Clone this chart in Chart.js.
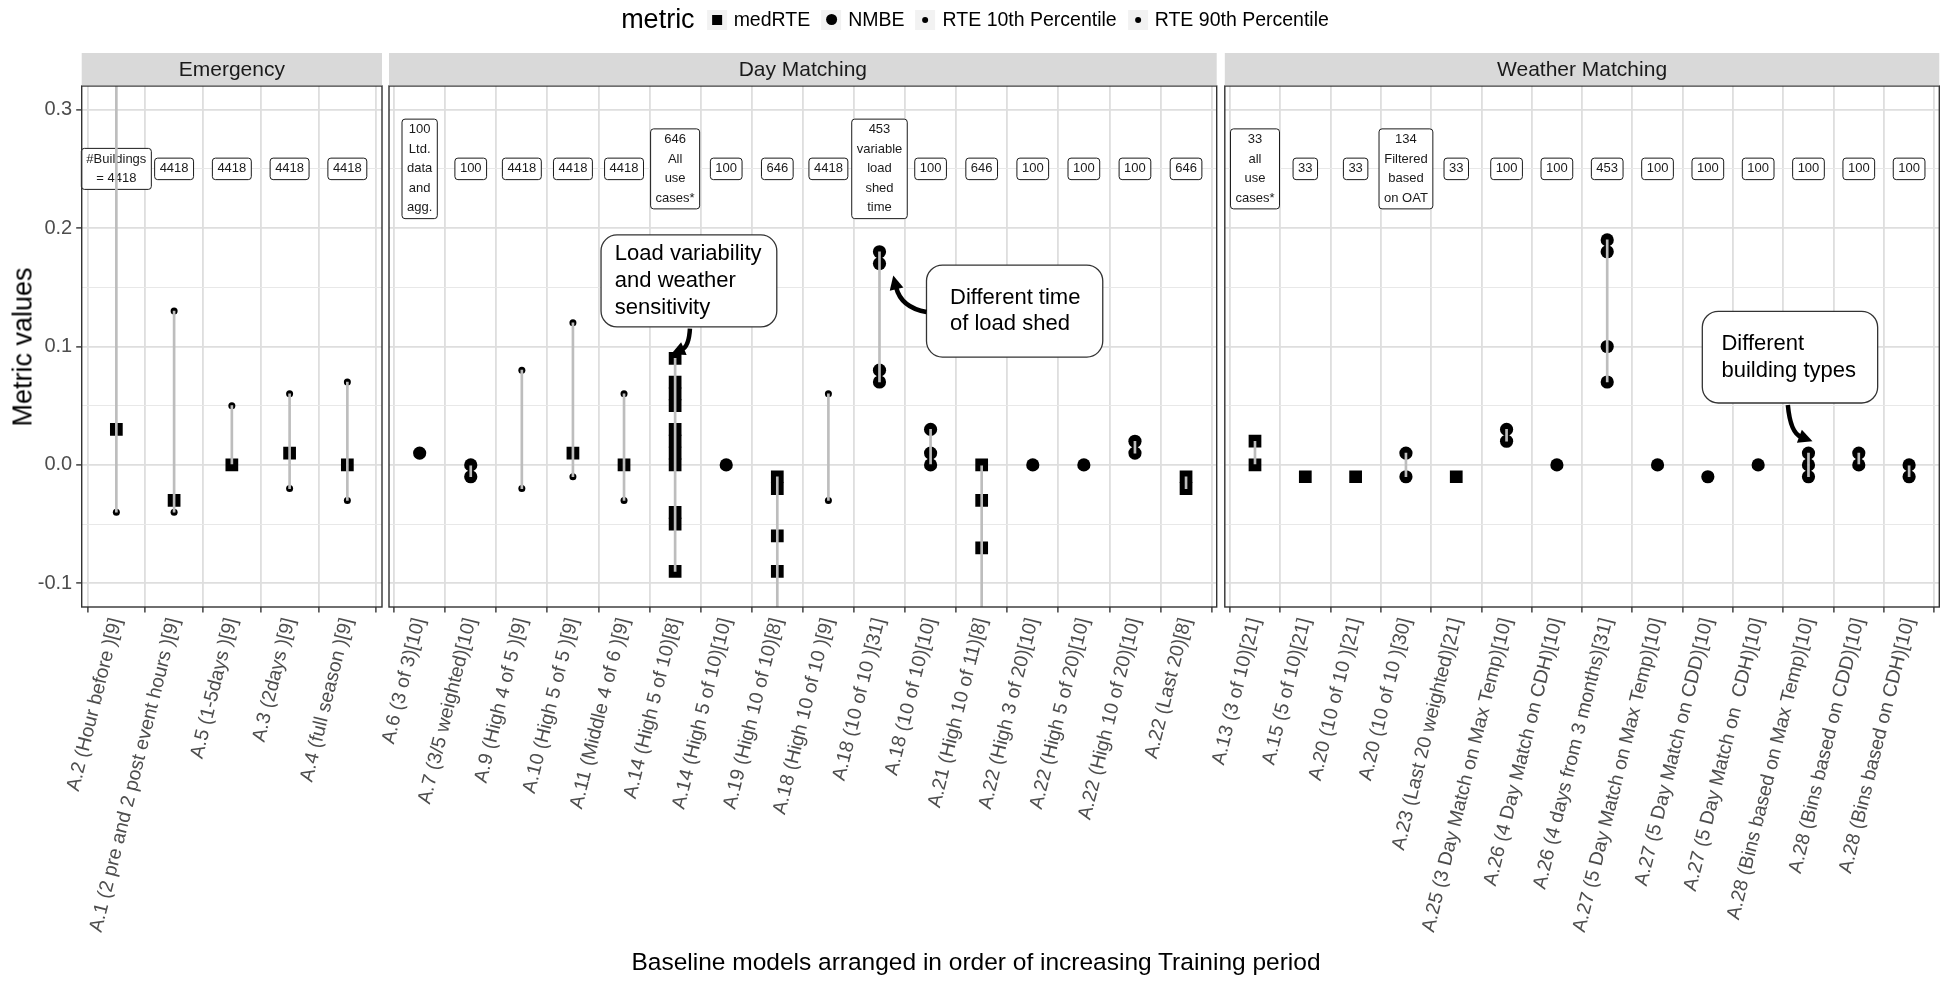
<!DOCTYPE html>
<html>
<head>
<meta charset="utf-8">
<script src="https://cdn.jsdelivr.net/npm/chart.js@4.4.1/dist/chart.umd.min.js"></script>
<style>
  body { margin: 0; background: #fff; font-family: "Liberation Sans", Arial, sans-serif; }
  #wrap { position: relative; width: 1950px; height: 981px; overflow: hidden; background: #fff; }
  #wrap canvas { position: absolute; left: 0; top: 0; }
  #legend { position: absolute; top: 9.5px; left: 975px; transform: translateX(-50%); display: flex; align-items: center; height: 20px; white-space: nowrap; line-height: 1; }
  #legend .title { font-size: 27px; margin-right: 12px; }
  #legend .key { width: 20px; height: 20px; background: #f2f2f2; display: flex; align-items: center; justify-content: center; margin-right: 7px; }
  #legend .lab { font-size: 19.5px; margin-right: 11px; }
  .sq { width: 10px; height: 10px; background: #000; }
  .ci { width: 11px; height: 11px; border-radius: 50%; background: #000; }
  .dot { width: 6px; height: 6px; border-radius: 50%; background: #000; }
  #xtitle { position: absolute; left: 976px; top: 950px; transform: translateX(-50%); font-size: 24.5px; line-height: 1; white-space: nowrap; }
  #ytitle { position: absolute; left: 22.5px; top: 347px; transform: translate(-50%, -50%) rotate(-90deg); font-size: 27px; line-height: 1; white-space: nowrap; }
</style>
</head>
<body>
<div id="wrap">
  <canvas id="cEmergency" width="1950" height="981"></canvas>
  <canvas id="cDay" width="1950" height="981"></canvas>
  <canvas id="cWeather" width="1950" height="981"></canvas>
  <div id="legend">
    <span class="title">metric</span>
    <span class="key"><span class="sq"></span></span><span class="lab">medRTE</span>
    <span class="key"><span class="ci"></span></span><span class="lab">NMBE</span>
    <span class="key"><span class="dot"></span></span><span class="lab">RTE 10th Percentile</span>
    <span class="key"><span class="dot"></span></span><span class="lab" style="margin-right:0">RTE 90th Percentile</span>
  </div>
  <div id="ytitle">Metric values</div>
  <div id="xtitle">Baseline models arranged in order of increasing Training period</div>
</div>
<script>
// Categories (baseline models) per facet
const emergencyLabels = [
  'A.2 (Hour before )[9]', 'A.1 (2 pre and 2 post event hours )[9]', 'A.5 (1-5days )[9]',
  'A.3 (2days )[9]', 'A.4 (full season )[9]'
];
const dayLabels = [
  'A.6 (3 of 3)[10]', 'A.7 (3/5 weighted)[10]', 'A.9 (High 4 of 5 )[9]', 'A.10 (High 5 of 5 )[9]',
  'A.11 (Middle 4 of 6 )[9]', 'A.14 (High 5 of 10)[8]', 'A.14 (High 5 of 10)[10]', 'A.19 (High 10 of 10)[8]',
  'A.18 (High 10 of 10 )[9]', 'A.18 (10 of 10 )[31]', 'A.18 (10 of 10)[10]', 'A.21 (High 10 of 11)[8]',
  'A.22 (High 3 of 20)[10]', 'A.22 (High 5 of 20)[10]', 'A.22 (High 10 of 20)[10]', 'A.22 (Last 20)[8]'
];
const weatherLabels = [
  'A.13 (3 of 10)[21]', 'A.15 (5 of 10)[21]', 'A.20 (10 of 10 )[21]', 'A.20 (10 of 10 )[30]',
  'A.23 (Last 20 weighted)[21]', 'A.25 (3 Day Match on Max Temp)[10]', 'A.26 (4 Day Match on CDH)[10]',
  'A.26 (4 days from 3 months)[31]', 'A.27 (5 Day Match on Max Temp)[10]', 'A.27 (5 Day Match on CDD)[10]',
  'A.27 (5 Day Match on  CDH)[10]', 'A.28 (Bins based on Max Temp)[10]', 'A.28 (Bins based on CDD)[10]',
  'A.28 (Bins based on CDH)[10]'
];

// medRTE values (one list per model, several use cases give several values)
const emergencyMedRTE = [[0.03], [-0.03], [0.0], [0.01], [0.0]];
const dayMedRTE = [
  [], [], [], [0.01], [0.0],
  [0.09, 0.07, 0.06, 0.05, 0.03, 0.02, 0.01, 0.0, -0.04, -0.05, -0.09],
  [], [-0.01, -0.02, -0.06, -0.09], [], [], [], [0.0, -0.03, -0.07], [], [], [], [-0.01, -0.02]
];
const weatherMedRTE = [[0.02, 0.0], [-0.01], [-0.01], [], [-0.01], [], [], [], [], [], [], [], [], []];

// NMBE values
const emergencyNMBE = [[], [], [], [], []];
const dayNMBE = [
  [0.01], [0.0, -0.01], [], [], [], [], [0.0], [], [], [0.18, 0.17, 0.08, 0.07], [0.03, 0.01, 0.0],
  [], [0.0], [0.0], [0.02, 0.01], []
];
const weatherNMBE = [
  [], [], [], [0.01, -0.01], [], [0.03, 0.02], [0.0], [0.19, 0.18, 0.1, 0.07], [0.0], [-0.01], [0.0],
  [0.01, 0.0, -0.01], [0.01, 0.0], [0.0, -0.01]
];

// RTE 10th / 90th percentiles (null = not shown)
const emergencyP10 = [-0.04, -0.04, 0.0, -0.02, -0.03];
const emergencyP90 = [0.33, 0.13, 0.05, 0.06, 0.07];
const dayP10 = [null, -0.01, -0.02, -0.01, -0.03, -0.09, null, -0.13, -0.03, 0.07, 0.0, -0.13, null, null, 0.01, -0.02];
const dayP90 = [null, 0.0, 0.08, 0.12, 0.06, 0.09, null, -0.01, 0.06, 0.18, 0.03, 0.0, null, null, 0.02, -0.01];
const weatherP10 = [0.0, null, null, -0.01, null, 0.02, null, 0.07, null, null, null, -0.01, 0.0, -0.01];
const weatherP90 = [0.02, null, null, 0.01, null, 0.03, null, 0.19, null, null, null, 0.01, 0.01, 0.0];

// Number of buildings labels
const emergencyCounts = ['#Buildings\n= 4418', '4418', '4418', '4418', '4418'];
const dayCounts = [
  '100\nLtd.\ndata\nand\nagg.', '100', '4418', '4418', '4418', '646\nAll\nuse\ncases*', '100', '646', '4418',
  '453\nvariable\nload\nshed\ntime', '100', '646', '100', '100', '100', '646'
];
const weatherCounts = [
  '33\nall\nuse\ncases*', '33', '33', '134\nFiltered\nbased\non OAT', '33', '100', '100', '453',
  '100', '100', '100', '100', '100', '100'
];
const countY = 0.25;

// y axis breaks (major every 0.1, minor between)
const yBreaks = [-0.1, -0.05, 0, 0.05, 0.1, 0.15, 0.2, 0.25, 0.3];

// Callouts, in data units: box [x0, y0, x1, y1], text x, arrow [start, control, tip]
const dayNotes = [
  { lines: ['Load variability', 'and weather', 'sensitivity'], box: [3.55, 0.1942, 6.99, 0.1165], textX: 3.82,
    arrow: [[5.29, 0.1150], [5.27, 0.1000], [4.92, 0.0935]] },
  { lines: ['Different time', 'of load shed'], box: [9.92, 0.1688, 13.37, 0.0911], textX: 10.38,
    arrow: [[9.92, 0.1291], [9.42, 0.1330], [9.27, 0.1600]] }
];
const weatherNotes = [
  { lines: ['Different', 'building types'], box: [8.89, 0.1297, 12.375, 0.0523], textX: 9.27,
    arrow: [[10.59, 0.0506], [10.64, 0.0270], [11.08, 0.0200]] }
];

const FONT = '"Liberation Sans", Arial, sans-serif';
const isMajor = v => Math.abs(v * 10 - Math.round(v * 10)) < 1e-6;

function flatten(lists) {
  const out = [];
  lists.forEach((vals, i) => vals.forEach(v => out.push({ x: i, y: v })));
  return out;
}

function points(vals) {
  return vals.map((v, i) => (v === null ? null : { x: i, y: v })).filter(p => p);
}

function ranges(lo, hi) {
  const out = [];
  lo.forEach((v, i) => {
    if (v !== null && hi[i] !== null) out.push({ x: i, y: [v, hi[i]] });
  });
  return out;
}

function drawArrow(ctx, x, y, pts) {
  const [p0, p1, p2] = pts.map(p => [x.getPixelForValue(p[0]), y.getPixelForValue(p[1])]);
  const dx = p2[0] - p1[0], dy = p2[1] - p1[1];
  const len = Math.hypot(dx, dy);
  const ux = dx / len, uy = dy / len;
  const head = 14, half = 7;
  const bx = p2[0] - ux * head, by = p2[1] - uy * head;
  ctx.strokeStyle = '#000';
  ctx.lineWidth = 4.5;
  ctx.lineCap = 'butt';
  ctx.beginPath();
  ctx.moveTo(p0[0], p0[1]);
  ctx.quadraticCurveTo(p1[0], p1[1], bx + ux * 2, by + uy * 2);
  ctx.stroke();
  ctx.fillStyle = '#000';
  ctx.beginPath();
  ctx.moveTo(p2[0], p2[1]);
  ctx.lineTo(bx - uy * half, by + ux * half);
  ctx.lineTo(bx + uy * half, by - ux * half);
  ctx.closePath();
  ctx.fill();
}

const facetPlugin = {
  id: 'facet',
  beforeDatasetsDraw(chart, args, opts) {
    const { ctx, scales: { x, y } } = chart;
    ctx.save();
    ctx.font = '13px ' + FONT;
    ctx.textAlign = 'center';
    ctx.textBaseline = 'middle';
    const lh = 19.5;
    opts.counts.forEach((txt, i) => {
      const lines = txt.split('\n');
      const w = Math.max(...lines.map(l => ctx.measureText(l).width)) + 10;
      const h = lines.length * lh + 2;
      const cx = x.getPixelForValue(i), cy = y.getPixelForValue(countY);
      ctx.beginPath();
      ctx.roundRect(cx - w / 2, cy - h / 2, w, h, 3);
      ctx.fillStyle = '#fff';
      ctx.fill();
      ctx.strokeStyle = '#1a1a1a';
      ctx.lineWidth = 1;
      ctx.stroke();
      ctx.fillStyle = '#1a1a1a';
      lines.forEach((l, k) => ctx.fillText(l, cx, cy - h / 2 + 1 + lh * (k + 0.5)));
    });
    ctx.restore();
  },
  afterDatasetsDraw(chart, args, opts) {
    const { ctx, chartArea: a, scales: { x, y } } = chart;
    ctx.save();
    opts.notes.forEach(n => {
      const x0 = x.getPixelForValue(n.box[0]), y0 = y.getPixelForValue(n.box[1]);
      const x1 = x.getPixelForValue(n.box[2]), y1 = y.getPixelForValue(n.box[3]);
      ctx.beginPath();
      ctx.roundRect(x0, y0, x1 - x0, y1 - y0, 16);
      ctx.fillStyle = '#fff';
      ctx.fill();
      ctx.strokeStyle = '#333';
      ctx.lineWidth = 1.3;
      ctx.stroke();
      ctx.fillStyle = '#000';
      ctx.font = '22px ' + FONT;
      ctx.textAlign = 'left';
      ctx.textBaseline = 'middle';
      const tx = x.getPixelForValue(n.textX);
      const cy = (y0 + y1) / 2;
      n.lines.forEach((l, k) => ctx.fillText(l, tx, cy + (k - (n.lines.length - 1) / 2) * 26.7));
      drawArrow(ctx, x, y, n.arrow);
    });
    // panel border
    ctx.strokeStyle = '#333';
    ctx.lineWidth = 1.4;
    ctx.strokeRect(a.left, a.top, a.right - a.left, a.bottom - a.top);
    // strip
    ctx.fillStyle = '#d9d9d9';
    ctx.fillRect(a.left, 53, a.right - a.left, a.top - 53 - 0.7);
    ctx.fillStyle = '#1a1a1a';
    ctx.font = '21px ' + FONT;
    ctx.textAlign = 'center';
    ctx.textBaseline = 'middle';
    ctx.fillText(opts.title, (a.left + a.right) / 2, (53 + a.top) / 2 + 1);
    ctx.restore();
  }
};

function buildPanel(canvasId, cfg) {
  const n = cfg.labels.length;
  const first = cfg.first;
  return new Chart(document.getElementById(canvasId), {
    type: 'scatter',
    data: {
      datasets: [
        { type: 'bar', label: 'range', data: ranges(cfg.p10, cfg.p90), backgroundColor: '#bdbdbd',
          barThickness: 2, borderWidth: 0, order: 0, clip: 0 },
        { label: 'NMBE', data: flatten(cfg.nmbe), pointStyle: 'circle', pointRadius: 6.6,
          backgroundColor: '#000', borderWidth: 0, order: 1 },
        { label: 'medRTE', data: flatten(cfg.med), pointStyle: 'rect', pointRadius: 9,
          backgroundColor: '#000', borderWidth: 0, order: 2 },
        { label: 'RTE 10th Percentile', data: points(cfg.p10), pointStyle: 'circle', pointRadius: 3.5,
          backgroundColor: '#000', borderWidth: 0, order: 3 },
        { label: 'RTE 90th Percentile', data: points(cfg.p90), pointStyle: 'circle', pointRadius: 3.5,
          backgroundColor: '#000', borderWidth: 0, order: 3 }
      ]
    },
    options: {
      responsive: false,
      animation: false,
      events: [],
      layout: { padding: { left: first ? 0 : cfg.left, right: 1950 - cfg.right, top: 86, bottom: 0 } },
      plugins: {
        legend: { display: false },
        tooltip: { enabled: false },
        facet: { title: cfg.title, counts: cfg.counts, notes: cfg.notes }
      },
      scales: {
        x: {
          type: 'linear',
          min: -0.6,
          max: n - 0.4,
          offset: false,
          afterBuildTicks: s => { s.ticks = cfg.labels.map((_, i) => ({ value: i })); },
          afterFit: s => { s.height = 981 - 607; },
          border: { display: false },
          grid: { color: '#dedede', lineWidth: 1.8, tickColor: '#333', tickLength: 5.5, tickWidth: 1.4 },
          ticks: {
            autoSkip: false, minRotation: 76, maxRotation: 76, padding: 3,
            color: '#4d4d4d', font: { family: FONT, size: 19.5 },
            callback: v => cfg.labels[v]
          }
        },
        y: {
          min: -0.12,
          max: 0.32,
          afterBuildTicks: s => { s.ticks = yBreaks.map(v => ({ value: v })); },
          afterFit: s => { s.width = first ? cfg.left : 0; },
          border: { display: false },
          grid: {
            color: c => (c.tick && isMajor(c.tick.value) ? '#dedede' : '#e8e8e8'),
            lineWidth: c => (c.tick && isMajor(c.tick.value) ? 1.8 : 1),
            drawTicks: first,
            tickColor: c => (c.tick && isMajor(c.tick.value) ? '#333' : 'rgba(0,0,0,0)'),
            tickLength: 5.5, tickWidth: 1.4
          },
          ticks: {
            display: first, padding: 4, color: '#4d4d4d', font: { family: FONT, size: 20 },
            callback: v => (isMajor(v) ? v.toFixed(1) : '')
          }
        }
      }
    },
    plugins: [facetPlugin]
  });
}

buildPanel('cEmergency', {
  title: 'Emergency', first: true, left: 81.7, right: 382,
  labels: emergencyLabels, med: emergencyMedRTE, nmbe: emergencyNMBE,
  p10: emergencyP10, p90: emergencyP90, counts: emergencyCounts, notes: []
});
buildPanel('cDay', {
  title: 'Day Matching', first: false, left: 389, right: 1216.7,
  labels: dayLabels, med: dayMedRTE, nmbe: dayNMBE,
  p10: dayP10, p90: dayP90, counts: dayCounts, notes: dayNotes
});
buildPanel('cWeather', {
  title: 'Weather Matching', first: false, left: 1224.8, right: 1939.3,
  labels: weatherLabels, med: weatherMedRTE, nmbe: weatherNMBE,
  p10: weatherP10, p90: weatherP90, counts: weatherCounts, notes: weatherNotes
});
</script>
</body>
</html>
